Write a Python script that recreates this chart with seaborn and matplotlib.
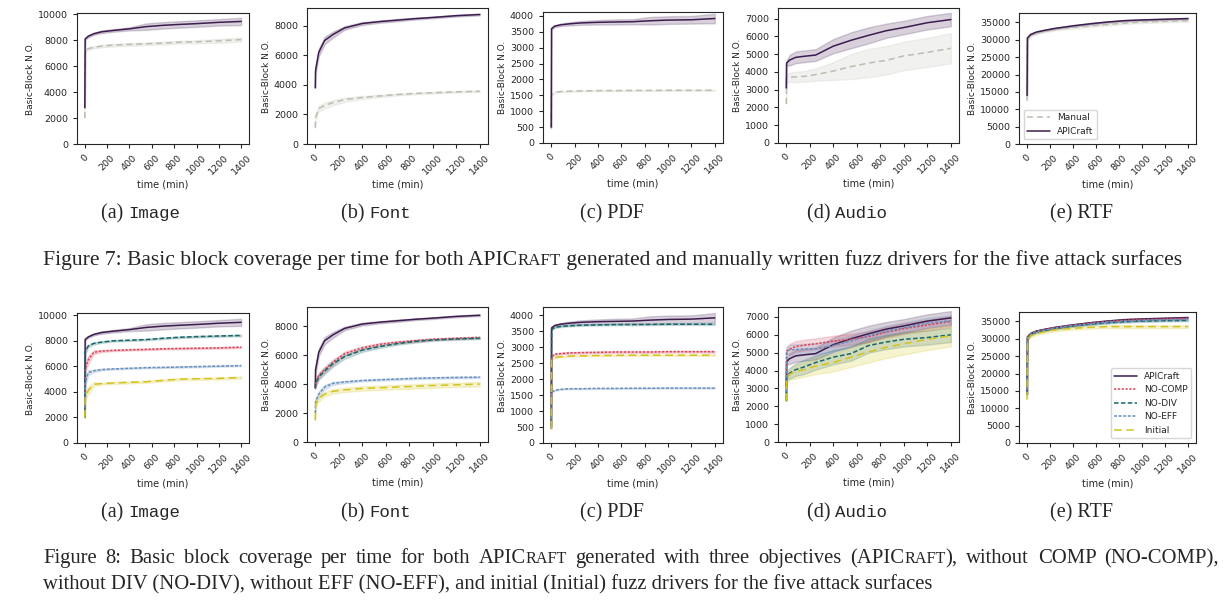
import numpy as np
import pandas as pd
import matplotlib
matplotlib.use("Agg")
import matplotlib.pyplot as plt
import seaborn as sb
from matplotlib.ticker import MultipleLocator
from matplotlib.textpath import TextPath
from matplotlib.font_manager import FontProperties

# time grid shared by every series (minutes)
T = [0, 3, 30, 80, 150, 250, 400, 550, 700, 850, 1000, 1200, 1400]

# --- Image ---
image_apicraft = [2800, 8100, 8300, 8500, 8650, 8750, 8880, 9050, 9150, 9220, 9280, 9380, 9450]
image_apicraft_band = [0, 80, 80, 80, 100, 100, 120, 250, 250, 250, 250, 250, 280]
image_manual = [2000, 7150, 7350, 7450, 7550, 7620, 7680, 7730, 7780, 7850, 7880, 7950, 8050]
image_manual_band = [0, 100, 100, 100, 100, 100, 100, 100, 100, 100, 120, 150, 150]
image_nocomp = [2000, 5800, 6500, 7100, 7200, 7250, 7300, 7330, 7380, 7400, 7420, 7450, 7500]
image_nocomp_band = [0, 300, 300, 150, 80, 60, 60, 60, 60, 60, 60, 60, 60]
image_nodiv = [2000, 7100, 7600, 7800, 7900, 8000, 8050, 8100, 8200, 8280, 8330, 8380, 8420]
image_nodiv_band = [0, 150, 100, 80, 60, 60, 60, 60, 60, 60, 60, 60, 60]
image_noeff = [2000, 4700, 5500, 5650, 5750, 5800, 5850, 5900, 5920, 5950, 5980, 6020, 6060]
image_noeff_band = [0, 300, 200, 100, 60, 50, 50, 50, 50, 50, 50, 50, 50]
image_initial = [2000, 3600, 4100, 4600, 4650, 4700, 4750, 4800, 4900, 5000, 5030, 5060, 5130]
image_initial_band = [0, 300, 300, 150, 80, 80, 80, 80, 80, 80, 80, 80, 80]

# --- Font ---
font_apicraft = [3800, 5000, 6200, 7000, 7400, 7850, 8150, 8280, 8380, 8480, 8560, 8680, 8760]
font_apicraft_band = [0, 300, 250, 250, 200, 120, 100, 80, 80, 60, 60, 60, 60]
font_manual = [1100, 1800, 2400, 2600, 2800, 3000, 3150, 3250, 3350, 3420, 3470, 3530, 3570]
font_manual_band = [0, 200, 200, 200, 180, 150, 100, 80, 60, 60, 50, 50, 50]
font_nocomp = [3700, 4100, 4600, 5000, 5500, 6100, 6500, 6750, 6900, 7000, 7100, 7170, 7230]
font_nocomp_band = [0, 200, 200, 200, 200, 150, 120, 100, 80, 80, 60, 60, 60]
font_nodiv = [3700, 4000, 4500, 4900, 5400, 5900, 6350, 6600, 6800, 6950, 7050, 7120, 7170]
font_nodiv_band = [0, 200, 200, 200, 200, 150, 120, 100, 80, 80, 60, 60, 60]
font_noeff = [2000, 2800, 3300, 3800, 4050, 4150, 4250, 4300, 4350, 4400, 4430, 4460, 4480]
font_noeff_band = [0, 200, 200, 150, 100, 80, 60, 60, 60, 60, 60, 60, 60]
font_initial = [1500, 2600, 3000, 3300, 3500, 3600, 3700, 3750, 3800, 3850, 3900, 3950, 4000]
font_initial_band = [0, 200, 200, 150, 150, 150, 150, 150, 150, 150, 150, 150, 150]

# --- PDF ---
pdf_apicraft = [500, 3600, 3680, 3720, 3750, 3780, 3800, 3810, 3820, 3850, 3870, 3880, 3920]
pdf_apicraft_band = [0, 30, 30, 40, 50, 60, 70, 80, 80, 120, 120, 120, 150]
pdf_manual = [450, 1500, 1600, 1620, 1630, 1640, 1650, 1650, 1655, 1655, 1660, 1660, 1660]
pdf_manual_band = [0, 15, 15, 15, 15, 15, 15, 15, 15, 15, 15, 15, 15]
pdf_nocomp = [450, 2700, 2780, 2800, 2820, 2830, 2840, 2850, 2850, 2850, 2860, 2860, 2860]
pdf_nocomp_band = [0, 30, 30, 30, 30, 30, 30, 30, 30, 30, 30, 30, 30]
pdf_nodiv = [500, 3550, 3620, 3650, 3670, 3690, 3700, 3710, 3710, 3715, 3720, 3720, 3720]
pdf_nodiv_band = [0, 20, 20, 20, 20, 20, 20, 20, 20, 20, 20, 20, 20]
pdf_noeff = [450, 1580, 1650, 1680, 1700, 1700, 1710, 1710, 1715, 1715, 1720, 1720, 1720]
pdf_noeff_band = [0, 15, 15, 15, 15, 15, 15, 15, 15, 15, 15, 15, 15]
pdf_initial = [450, 2600, 2680, 2700, 2720, 2730, 2740, 2745, 2750, 2750, 2750, 2750, 2750]
pdf_initial_band = [0, 15, 15, 15, 15, 15, 15, 15, 15, 15, 15, 15, 15]

# --- Audio ---
audio_apicraft = [3100, 4500, 4670, 4820, 4880, 4950, 5450, 5780, 6060, 6320, 6500, 6770, 6950]
audio_apicraft_band = [0, 150, 300, 330, 330, 330, 400, 450, 450, 400, 380, 380, 380]
audio_manual = [2200, 3600, 3700, 3720, 3750, 3850, 4050, 4300, 4500, 4650, 4900, 5100, 5330]
audio_manual_band = [0, 250, 250, 300, 300, 350, 500, 700, 800, 800, 800, 820, 850]
audio_nocomp = [2300, 5100, 5200, 5350, 5420, 5500, 5650, 5750, 5900, 6150, 6350, 6550, 6750]
audio_nocomp_band = [0, 200, 300, 300, 300, 300, 300, 300, 300, 300, 300, 300, 300]
audio_nodiv = [2300, 3700, 3850, 4050, 4200, 4450, 4750, 4950, 5400, 5600, 5750, 5850, 6000]
audio_nodiv_band = [0, 200, 300, 350, 400, 400, 400, 400, 400, 400, 400, 400, 400]
audio_noeff = [2300, 5100, 5150, 5180, 5200, 5220, 5400, 5650, 5950, 6200, 6400, 6650, 6800]
audio_noeff_band = [0, 200, 300, 300, 300, 300, 300, 300, 300, 300, 300, 300, 300]
audio_initial = [2300, 3500, 3800, 3950, 4050, 4250, 4450, 4750, 5050, 5300, 5500, 5750, 5950]
audio_initial_band = [0, 200, 300, 400, 400, 450, 500, 550, 600, 600, 600, 600, 600]

# --- RTF ---
rtf_apicraft = [14000, 30500, 31500, 32200, 32700, 33300, 34000, 34600, 35100, 35500, 35700, 35900, 36100]
rtf_apicraft_band = [0, 300, 200, 200, 200, 200, 200, 200, 200, 200, 200, 200, 200]
rtf_manual = [12500, 30000, 31200, 31800, 32400, 33000, 33500, 34000, 34400, 34800, 35100, 35300, 35500]
rtf_manual_band = [0, 300, 300, 300, 300, 300, 300, 300, 300, 300, 300, 300, 300]
rtf_nocomp = [14000, 30300, 31400, 32100, 32600, 33200, 33900, 34500, 35000, 35300, 35500, 35700, 35900]
rtf_nocomp_band = [0, 300, 250, 250, 250, 250, 250, 250, 250, 250, 250, 250, 250]
rtf_nodiv = [14000, 30000, 31200, 31900, 32400, 33000, 33700, 34200, 34600, 34900, 35100, 35200, 35300]
rtf_nodiv_band = [0, 300, 250, 250, 250, 250, 250, 250, 250, 250, 250, 250, 250]
rtf_noeff = [14000, 30200, 31300, 32000, 32500, 33100, 33800, 34300, 34800, 35100, 35300, 35500, 35600]
rtf_noeff_band = [0, 300, 250, 250, 250, 250, 250, 250, 250, 250, 250, 250, 250]
rtf_initial = [12500, 29500, 30800, 31500, 32000, 32600, 33000, 33300, 33500, 33500, 33500, 33500, 33500]
rtf_initial_band = [0, 400, 400, 400, 400, 400, 400, 400, 400, 400, 400, 400, 400]

surfaces = ["Image", "Font", "PDF", "Audio", "RTF"]
letters = ["(a)", "(b)", "(c)", "(d)", "(e)"]

fig7_series = {
    "Image": [("Manual", image_manual, image_manual_band), ("APICraft", image_apicraft, image_apicraft_band)],
    "Font": [("Manual", font_manual, font_manual_band), ("APICraft", font_apicraft, font_apicraft_band)],
    "PDF": [("Manual", pdf_manual, pdf_manual_band), ("APICraft", pdf_apicraft, pdf_apicraft_band)],
    "Audio": [("Manual", audio_manual, audio_manual_band), ("APICraft", audio_apicraft, audio_apicraft_band)],
    "RTF": [("Manual", rtf_manual, rtf_manual_band), ("APICraft", rtf_apicraft, rtf_apicraft_band)],
}
fig8_series = {
    "Image": [("APICraft", image_apicraft, image_apicraft_band), ("NO-COMP", image_nocomp, image_nocomp_band),
              ("NO-DIV", image_nodiv, image_nodiv_band), ("NO-EFF", image_noeff, image_noeff_band),
              ("Initial", image_initial, image_initial_band)],
    "Font": [("APICraft", font_apicraft, font_apicraft_band), ("NO-COMP", font_nocomp, font_nocomp_band),
             ("NO-DIV", font_nodiv, font_nodiv_band), ("NO-EFF", font_noeff, font_noeff_band),
             ("Initial", font_initial, font_initial_band)],
    "PDF": [("APICraft", pdf_apicraft, pdf_apicraft_band), ("NO-COMP", pdf_nocomp, pdf_nocomp_band),
            ("NO-DIV", pdf_nodiv, pdf_nodiv_band), ("NO-EFF", pdf_noeff, pdf_noeff_band),
            ("Initial", pdf_initial, pdf_initial_band)],
    "Audio": [("APICraft", audio_apicraft, audio_apicraft_band), ("NO-COMP", audio_nocomp, audio_nocomp_band),
              ("NO-DIV", audio_nodiv, audio_nodiv_band), ("NO-EFF", audio_noeff, audio_noeff_band),
              ("Initial", audio_initial, audio_initial_band)],
    "RTF": [("APICraft", rtf_apicraft, rtf_apicraft_band), ("NO-COMP", rtf_nocomp, rtf_nocomp_band),
            ("NO-DIV", rtf_nodiv, rtf_nodiv_band), ("NO-EFF", rtf_noeff, rtf_noeff_band),
            ("Initial", rtf_initial, rtf_initial_band)],
}

palette = {"APICraft": "#3d1c4f", "Manual": "#bdbdb0", "NO-COMP": "#d6455a",
           "NO-DIV": "#17676a", "NO-EFF": "#6a90bd", "Initial": "#d4c31c"}
dashes = {"APICraft": "", "Manual": (4, 2.5), "NO-COMP": (1.5, 1), "NO-DIV": (3, 1.5),
          "NO-EFF": (2, 1), "Initial": (5, 3)}

# layout (pixels)
W, H, DPI = 1229, 606, 100
cols = [(77, 249), (307, 488), (543, 723), (778, 959), (1019, 1196)]
row1 = [(13, 144), (8, 144), (12, 143), (8, 143), (13, 144)]
row2 = [(313, 443), (307, 442), (307, 443), (307, 442), (312, 443)]
ytop1 = [10100, 9200, 4125, 7600, 37700]
ytop2 = [10180, 9330, 4260, 7560, 37700]
ystep = [2000, 2000, 500, 1000, 5000]
sub_x = [141, 376, 612, 847, 1082]

sb.set_style("ticks")
plt.rcParams["font.family"] = ["DejaVu Sans"]

fig = plt.figure(figsize=(W / DPI, H / DPI), dpi=DPI)


def long_table(series):
    rows = []
    for name, mean, band in series:
        for t, m, b in zip(T, mean, band):
            rows += [(t, m - b, name), (t, m, name), (t, m + b, name)]
    return pd.DataFrame(rows, columns=["time", "bb", "series"])


def panel(rect_x, rect_y, series, ytop, step, legend_loc=None):
    x0, x1 = rect_x
    y0, y1 = rect_y
    ax = fig.add_axes([x0 / W, 1 - y1 / H, (x1 - x0) / W, (y1 - y0) / H])
    df = long_table(series)
    order = [s[0] for s in series]
    sb.lineplot(data=df, x="time", y="bb", hue="series", style="series",
                hue_order=order, style_order=order, palette=palette, dashes=dashes,
                estimator="median", errorbar=lambda v: (v.min(), v.max()),
                linewidth=1.1, legend=legend_loc is not None, ax=ax)
    ax.set_ylim(0, ytop)
    ax.set_xticks(range(0, 1401, 200))
    ax.yaxis.set_major_locator(MultipleLocator(step))
    ax.tick_params(axis="x", labelrotation=45, labelsize=6.8, length=3)
    ax.tick_params(axis="y", labelsize=6.8, length=3)
    ax.set_xlabel("time (min)", fontsize=7, labelpad=2)
    ax.set_ylabel("Basic-Block N.O.", fontsize=6.5, labelpad=2)
    if legend_loc is not None:
        h, l = ax.get_legend_handles_labels()
        ax.legend(h, l, loc=legend_loc, fontsize=6.5, handlelength=2.5)
    return ax


for i, s in enumerate(surfaces):
    panel(cols[i], row1[i], fig7_series[s], ytop1[i], ystep[i], "lower left" if s == "RTF" else None)
    panel(cols[i], row2[i], fig8_series[s], ytop2[i], ystep[i], "lower right" if s == "RTF" else None)

# captions: runs of text with different fonts (small caps faked with a smaller size)
serif7 = FontProperties(family="Liberation Serif", size=15.6)
small7 = FontProperties(family="Liberation Serif", size=15.6 * 0.78)
serif8 = FontProperties(family="Liberation Serif", size=14.9)
small8 = FontProperties(family="Liberation Serif", size=14.9 * 0.78)
sub_serif = FontProperties(family="Liberation Serif", size=14.5)
sub_mono = FontProperties(family="Liberation Mono", size=12.5)


def run_width(s, fp):
    a = TextPath((0, 0), "|" + s + "|", prop=fp).get_extents().width
    b = TextPath((0, 0), "||", prop=fp).get_extents().width
    return (a - b) * DPI / 72


def draw_runs(x_px, y_px, runs, center=False):
    widths = [run_width(s, fp) for s, fp in runs]
    x = x_px - (sum(widths) / 2 if center else 0)
    for (s, fp), w in zip(runs, widths):
        if s:
            fig.text(x / W, 1 - y_px / H, s, fontproperties=fp, va="baseline", ha="left")
        x += w


def draw_justified(x0, x1, y_px, runs):
    # split into words (a word may mix fonts), then spread the gaps to fill x0..x1
    words = [[]]
    for s, fp in runs:
        for k, p in enumerate(s.split(" ")):
            if k > 0:
                words.append([])
            if p:
                words[-1].append((p, fp))
    words = [w for w in words if w]
    ww = [sum(run_width(p, fp) for p, fp in w) for w in words]
    gap = (x1 - x0 - sum(ww)) / (len(words) - 1)
    x = x0
    for w, width in zip(words, ww):
        draw_runs(x, y_px, w)
        x += width + gap


def subcaption(i, y_px):
    s = surfaces[i]
    if s in ("Image", "Font", "Audio"):
        runs = [(letters[i] + " ", sub_serif), (s, sub_mono)]
    else:
        runs = [(letters[i] + " " + s, sub_serif)]
    draw_runs(sub_x[i], y_px, runs, center=True)


for i in range(5):
    subcaption(i, 218)
    subcaption(i, 517)

draw_runs(613, 265, [("Figure 7: Basic block coverage per time for both APIC", serif7), ("RAFT", small7),
                     (" generated and manually written fuzz drivers for the five attack surfaces", serif7)],
          center=True)

draw_justified(43, 1219, 563, [("Figure 8: Basic block coverage per time for both APIC", serif8), ("RAFT", small8),
                               (" generated with three objectives (APIC", serif8), ("RAFT", small8),
                               ("), without COMP (NO-COMP),", serif8)])
draw_runs(43, 589, [("without DIV (NO-DIV), without EFF (NO-EFF), and initial (Initial) fuzz drivers for the five attack surfaces", serif8)])

fig.savefig("out.png", dpi=DPI)
